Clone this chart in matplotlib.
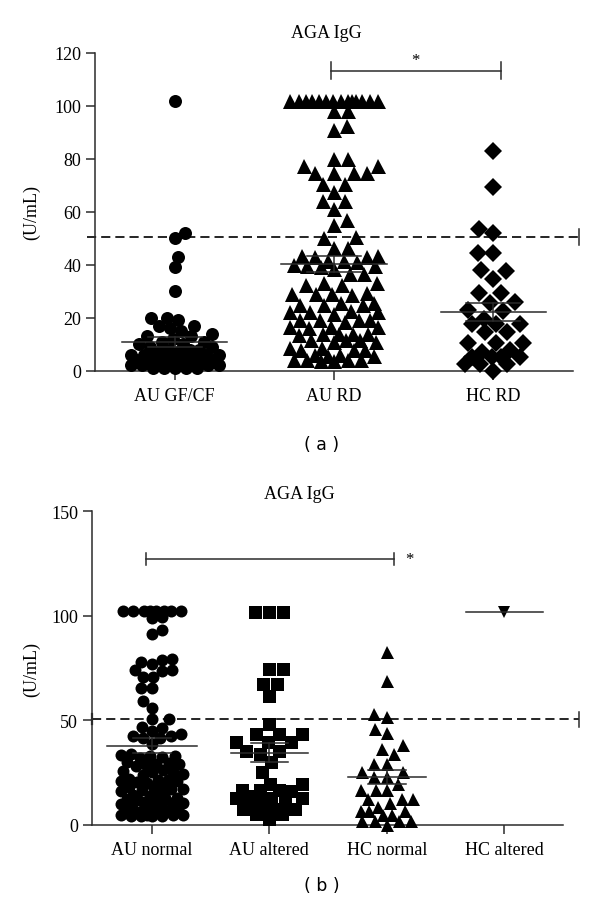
import numpy as np
import matplotlib
matplotlib.use("Agg")
import matplotlib.pyplot as plt

# ---------------- data ----------------
cats_a = ["AU GF/CF", "AU RD", "HC RD"]
au_gfcf = [102, 52, 50, 43, 39, 30, 20, 20, 19, 17, 17, 16, 15, 14, 13, 13, 12, 11, 11,
           10, 10, 9, 9, 8, 8, 8, 7, 7, 6, 6, 6, 6, 5, 5, 5, 5, 4, 4, 4, 3, 3, 3, 3,
           2, 2, 2, 2, 2, 2, 1, 1, 1, 1, 1]
au_rd = [102] * 14 + [98, 98, 92.5, 91, 80, 80, 77.5, 77.5, 74.5, 74.5, 74.5, 74.5,
                      70.5, 70.5, 67.5, 64, 64, 61, 57, 55, 50.5, 50, 46.5, 46.5,
                      43.5, 43.5, 43, 43, 41.5, 41.5, 41, 39.5, 39.5, 40, 39, 38.5,
                      36.5, 36.5, 33, 32.5, 32.5, 33, 29, 29.5, 29, 28.5, 29, 25, 25.5,
                      25, 25, 25.5, 22, 22, 22.5, 22, 21.5, 19, 19, 18.5, 19, 19, 16.5,
                      16.5, 16, 16.5, 14, 14, 13.5, 14, 14, 11.5, 11, 11.5, 11, 11.5,
                      8, 8.5, 8, 8, 8.5, 6, 5.5, 5.5, 6, 4, 3.5, 4, 3.5, 4, 4]
hc_rd = [83, 69.5, 53.5, 52, 44.5, 44.5, 38, 37.5, 34.5, 29.5, 29.5, 26, 25.5, 22.5, 23,
         19.5, 17.5, 17.5, 17.5, 14.5, 14.5, 10.5, 10.5, 10.5, 8, 7, 5, 5, 5, 5,
         2.5, 2.5, 2.5, 0]
means_a = [11, 40.3, 22.3]
sems_a = [1.9, 3.0, 3.4]

cats_b = ["AU normal", "AU altered", "HC normal", "HC altered"]
au_normal = [102.5] * 8 + [99.5, 99, 93, 91.5, 79.5, 79, 78, 77, 74, 74, 73.5, 70.5, 70.5,
                           65.5, 65.5, 59, 56, 50.5, 50.5, 47, 46.5, 45, 43.5, 42.5, 42.5,
                           41.5, 41.5, 38.5,
                           33, 33.5, 32.5, 33, 32, 34,
                           29, 29.5, 28.5, 30, 28, 29,
                           25, 25.5, 24.5, 26, 24, 25,
                           21, 21.5, 20.5, 22, 20, 21, 21.5,
                           17, 17.5, 16.5, 18, 16, 17, 17.5,
                           13, 13.5, 12.5, 14, 12, 13, 13.5,
                           10.5, 10, 11, 10.5, 9.5, 10, 11,
                           6.5, 7, 6, 7.5, 6.5, 6, 7,
                           4.5, 4, 4.5, 4, 4.5, 4, 4.5, 4]
au_altered = [102, 102, 102, 74.5, 74.5, 67.5, 67.5, 61.5, 48, 43.5, 43.5, 43.5, 39.5,
              39.5, 39.5, 35.5, 35.5, 34, 30, 25, 19.5, 19.5, 16.5, 16.5, 16, 16.5, 13, 13,
              13.5, 13, 10.5, 10.5, 7.5, 7.5, 7.5, 7.5, 7.5, 5, 5, 2.5]
hc_normal = [82.5, 69, 53, 51.5, 46, 44, 38, 36, 34, 29, 29, 25, 25, 23, 23, 19.5, 16.5,
             16.5, 16.5, 12.5, 12.5, 12.5, 10.5, 8.5, 6.5, 6.5, 6.5, 4.5, 4.5, 2, 2, 2, 2, 0]
hc_altered = [102]
means_b = [37.8, 34.4, 22.7, 102]
sems_b = [3.5, 4.6, 3.4, 0]

cutoff = 50.5

# ---------------- style ----------------
SERIF = ["Liberation Serif", "DejaVu Serif"]
plt.rcParams["font.family"] = SERIF
DARK = "#2b2b2b"
DPI = 100

fig = plt.figure(figsize=(6.0, 9.12), dpi=DPI)


def swarm(ax, xc, vals, marker, ms_px, d_px, maxhalf_px):
    vals = np.asarray(vals, float)
    tr = ax.transData
    sx = tr.transform((1, 0))[0] - tr.transform((0, 0))[0]
    ypx = tr.transform(np.column_stack([np.zeros(len(vals)), vals]))[:, 1]
    order = np.argsort(vals, kind="stable")
    cands = np.arange(0, maxhalf_px + 0.01, 0.5)
    placed_x, placed_y = [], []
    xs = np.zeros(len(vals))
    flip = 1
    for i in order:
        y = ypx[i]
        px = np.array(placed_x)
        py = np.array(placed_y)
        chosen = None
        best, bestd = 0.0, -1
        for c in cands:
            for s in ((flip, -flip) if c > 0 else (1,)):
                x = c * s
                if len(px):
                    dmin = np.min(np.hypot(px - x, py - y))
                else:
                    dmin = 1e9
                if dmin >= d_px:
                    chosen = x
                    break
                if dmin > bestd:
                    bestd, best = dmin, x
            if chosen is not None:
                break
        if chosen is None:
            chosen = best
        flip = -flip
        placed_x.append(chosen)
        placed_y.append(y)
        xs[i] = chosen
    ms_pt = ms_px * 72.0 / DPI
    ax.plot(xc + xs / sx, vals, linestyle="none", marker=marker, ms=ms_pt,
            mfc="black", mec="black", mew=0, clip_on=False, zorder=3)


def mean_sem(ax, xc, m, s, hw, cw):
    kw = dict(color=DARK, lw=1.1, clip_on=False, zorder=4)
    ax.plot([xc - hw, xc + hw], [m, m], **kw)
    if s > 0:
        ax.plot([xc, xc], [m - s, m + s], **kw)
        ax.plot([xc - cw, xc + cw], [m + s, m + s], **kw)
        ax.plot([xc - cw, xc + cw], [m - s, m - s], **kw)


def style_axes(ax):
    for sp in ("top", "right"):
        ax.spines[sp].set_visible(False)
    for sp in ("left", "bottom"):
        ax.spines[sp].set_color(DARK)
        ax.spines[sp].set_linewidth(1.1)
    ax.tick_params(axis="both", colors=DARK, width=1.1, length=6.5, labelsize=13,
                   labelcolor="black", direction="out")
    ax.tick_params(axis="x", pad=5)


# ================= panel (a) =================
H = 912.0
W = 600.0
axa = fig.add_axes([95 / W, 1 - 371.7 / H, (573 - 95) / W, (371.7 - 54) / H])
axa.set_xlim(-0.5, 2.5)
axa.set_ylim(0, 120)
axa.set_yticks(np.arange(0, 121, 20))
axa.set_xticks(range(len(cats_a)))
axa.set_xticklabels(cats_a, fontsize=13.5)
style_axes(axa)

swarm(axa, 0, au_gfcf, "o", 13, 11.0, 44)
swarm(axa, 1, au_rd, "^", 15, 13.5, 44)
swarm(axa, 2, hc_rd, "D", 13, 15.0, 30)
for i in range(3):
    mean_sem(axa, i, means_a[i], sems_a[i], 0.33, 0.17)

# cutoff line
axa.plot([-0.552, 2.54], [cutoff, cutoff], color="black", lw=1.2, dashes=[5.5, 3.0],
         clip_on=False, zorder=2)
axa.plot([2.54, 2.54], [cutoff - 3.2, cutoff + 3.2], color=DARK, lw=1.1, clip_on=False)

# significance bar
axa.plot([0.98, 2.05], [113.3, 113.3], color=DARK, lw=1.1, clip_on=False)
axa.plot([0.98, 0.98], [110, 116.6], color=DARK, lw=1.1, clip_on=False)
axa.plot([2.05, 2.05], [110, 116.6], color=DARK, lw=1.1, clip_on=False)
axa.text(1.51, 117.3, "*", ha="center", va="center", fontsize=12)

fig.text(326 / W, 1 - 33 / H, "AGA IgG", ha="center", va="center", fontsize=13)
fig.text(31.5 / W, 1 - 213 / H, "(U/mL)", ha="center", va="center", rotation=90, fontsize=13)
fig.text(321.7 / W, 1 - 445 / H, "( a )", ha="center", va="center", fontsize=12.5,
         family=["DejaVu Sans"])

# ================= panel (b) =================
axb = fig.add_axes([92 / W, 1 - 825.7 / H, (563 - 92) / W, (825.7 - 512.3) / H])
axb.set_xlim(-0.51, 3.5)
axb.set_ylim(0, 150)
axb.set_yticks([0, 50, 100, 150])
axb.set_xticks(range(len(cats_b)))
axb.set_xticklabels(cats_b, fontsize=13.5)
style_axes(axb)

swarm(axb, 0, au_normal, "o", 12, 10.5, 31)
swarm(axb, 1, au_altered, "s", 13, 14.0, 33)
swarm(axb, 2, hc_normal, "^", 13, 12.5, 26)
swarm(axb, 3, hc_altered, "v", 12.5, 12.5, 26)
hw_b = [0.38, 0.33, 0.33, 0.33]
for i in range(4):
    mean_sem(axb, i, means_b[i], sems_b[i], hw_b[i], 0.16)

axb.plot([-0.51, 3.64], [cutoff, cutoff], color="black", lw=1.2, dashes=[5.5, 3.0],
         clip_on=False, zorder=2)
axb.plot([3.64, 3.64], [cutoff - 3.6, cutoff + 3.6], color=DARK, lw=1.1, clip_on=False)
axb.plot([-0.51, -0.51], [cutoff - 2.4, cutoff + 2.4], color=DARK, lw=1.6, clip_on=False)

axb.plot([-0.05, 2.06], [127.2, 127.2], color=DARK, lw=1.1, clip_on=False)
axb.plot([-0.05, -0.05], [124.3, 130.1], color=DARK, lw=1.1, clip_on=False)
axb.plot([2.06, 2.06], [124.3, 130.1], color=DARK, lw=1.1, clip_on=False)
axb.text(2.19, 127.0, "*", ha="center", va="center", fontsize=12)

fig.text(299 / W, 1 - 495 / H, "AGA IgG", ha="center", va="center", fontsize=13)
fig.text(31.5 / W, 1 - 670 / H, "(U/mL)", ha="center", va="center", rotation=90, fontsize=13)
fig.text(321.7 / W, 1 - 886 / H, "( b )", ha="center", va="center", fontsize=12.5,
         family=["DejaVu Sans"])

fig.savefig("out.png", dpi=DPI)
